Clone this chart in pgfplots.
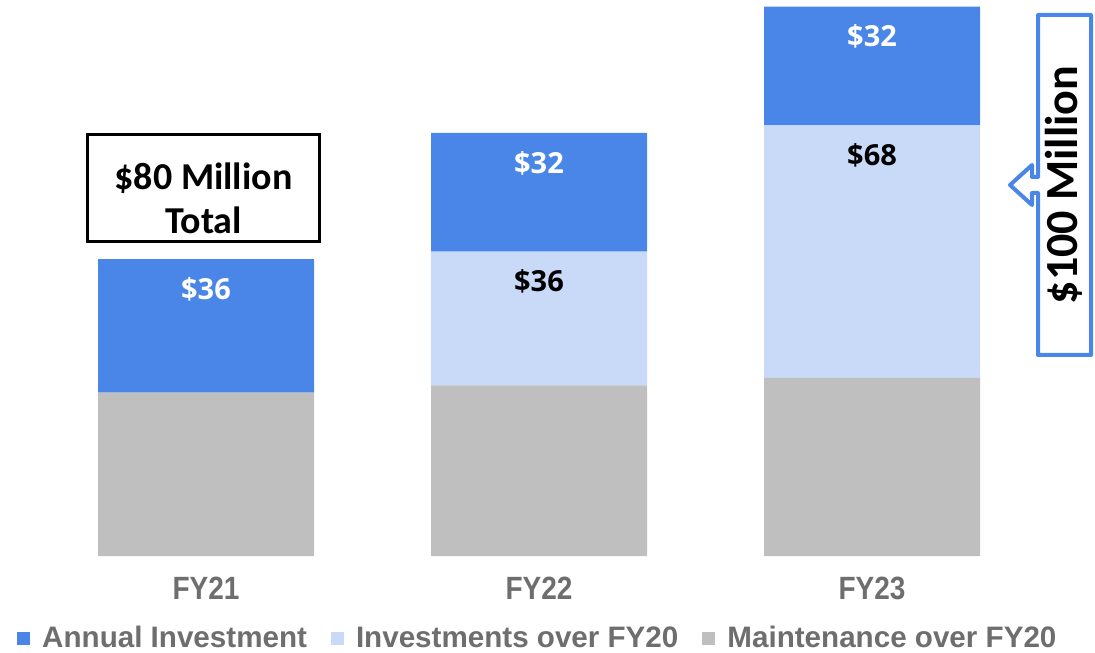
\documentclass[border=0pt]{standalone}
\usepackage{fontspec}
\setmainfont{Liberation Sans}
\newfontfamily\calfont{Carlito}
\newfontfamily\osfont{Open Sans}
\usepackage{pgfplots}
\pgfplotsset{compat=1.18}
\definecolor{annblue}{HTML}{4A86E8}
\definecolor{invlight}{HTML}{C9DAF8}
\definecolor{maingray}{HTML}{BFBFBF}
\definecolor{txtgray}{HTML}{6E6E6E}

\pgfplotsset{
  sq/.style={legend image code/.code={\fill[##1] (0bp,-6.5bp) rectangle (13bp,6.5bp);}},
  % label sits 30bp below the top of its own segment
  barlab/.style={nodes near coords, point meta=explicit symbolic,
    visualization depends on=rawy \as \segy,
    every node near coord/.append style={anchor=center,
      yshift={\segy*1.8558bp-30bp},
      font=\osfont\bfseries\fontsize{29bp}{32bp}\selectfont, text=#1}},
}

\begin{document}
\begin{tikzpicture}
\useasboundingbox (0,-97bp) rectangle (1095bp,556bp);
\begin{axis}[
    scale only axis,
    width=1095bp, height=556bp,
    xmin=-0.6186, xmax=2.6697,
    ymin=0, ymax=149.8,
    ybar stacked,
    bar width=216bp,
    clip=false,
    axis line style={draw=none},
    ytick=\empty,
    xtick={0,1,2},
    xticklabels={\scalebox{1}[1.15]{FY21},\scalebox{1}[1.15]{FY22},\scalebox{1}[1.15]{FY23}},
    major tick length=0pt,
    xticklabel style={anchor=center, yshift=-32bp, text=txtgray,
      font=\bfseries\fontsize{28bp}{32bp}\selectfont},
    legend columns=3,
    reverse legend,
    legend cell align=left,
    legend style={draw=none, fill=none, inner sep=0pt,
      at={(axis description cs:0.01553,-0.1475)}, anchor=west,
      font=\bfseries\fontsize{29.6bp}{34bp}\selectfont, text=txtgray,
      nodes={inner sep=0pt},
      /tikz/every odd column/.append style={column sep=12bp},
      /tikz/every even column/.append style={column sep=24bp}},
]
\addplot[fill=maingray, draw=none, sq] coordinates {(0,44) (1,46) (2,48)};
\addplot[fill=invlight, draw=none, sq, barlab=black] coordinates {(0,0) [\relax] (1,36) [\$36] (2,68) [\$68]};
\addplot[fill=annblue, draw=none, sq, barlab=white] coordinates {(0,36) [\$36] (1,32) [\$32] (2,32) [\$32]};
\legend{Maintenance over FY20, Investments over FY20, Annual Investment}
\end{axis}

% annotation boxes
\draw[black, line width=3bp] (87.5bp,314.5bp) rectangle (319.5bp,421.5bp);
\node[align=center, font=\calfont\bfseries\fontsize{38bp}{44bp}\selectfont]
  at (203.5bp,358bp) {\$80 Million\\Total};
\draw[annblue, line width=4bp, line join=round]
  (1038bp,541bp) -- (1091bp,541bp) -- (1091bp,201bp) -- (1038bp,201bp)
  -- (1038bp,363bp) -- (1032bp,363bp) -- (1032bp,351bp) -- (1010bp,371bp)
  -- (1032bp,391bp) -- (1032bp,379bp) -- (1038bp,379bp) -- cycle;
\node[rotate=90, font=\calfont\bfseries\fontsize{46bp}{50bp}\selectfont]
  at (1064bp,371bp) {\$100 Million};
\end{tikzpicture}
\end{document}
